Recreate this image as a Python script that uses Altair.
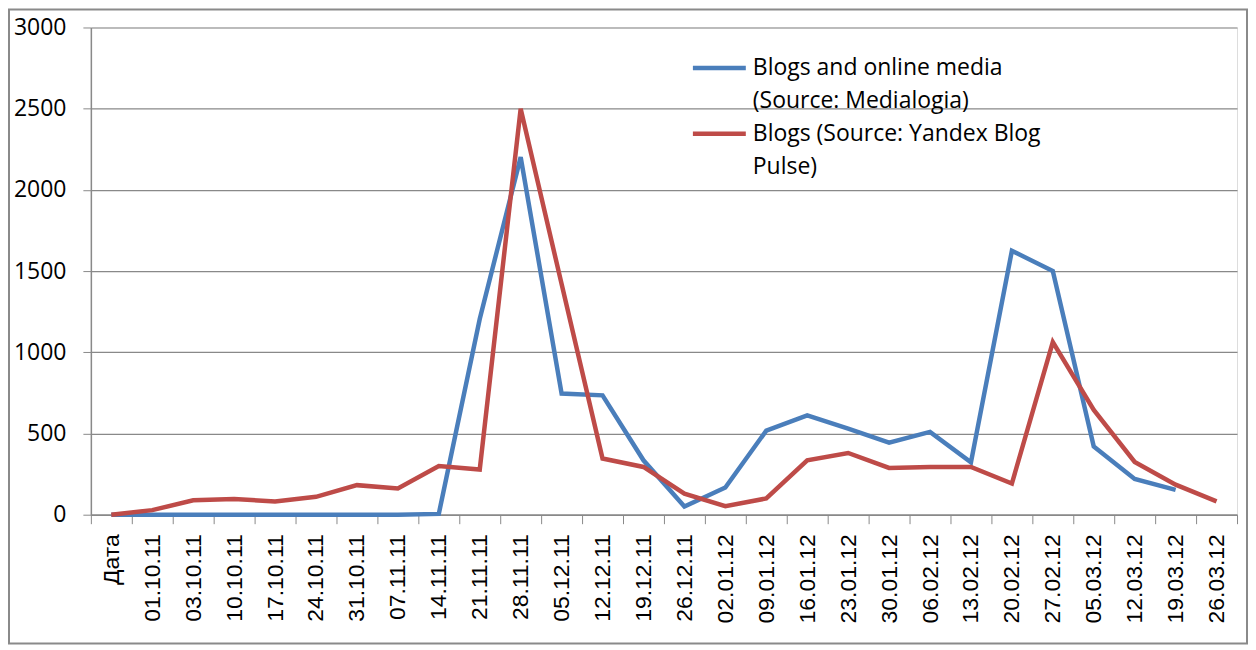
import altair as alt
import pandas as pd

categories = ["Дата", "01.10.11", "03.10.11", "10.10.11", "17.10.11", "24.10.11", "31.10.11",
              "07.11.11", "14.11.11", "21.11.11", "28.11.11", "05.12.11", "12.12.11", "19.12.11",
              "26.12.11", "02.01.12", "09.01.12", "16.01.12", "23.01.12", "30.01.12", "06.02.12",
              "13.02.12", "20.02.12", "27.02.12", "05.03.12", "12.03.12", "19.03.12", "26.03.12"]

medialogia = [0, 0, 0, 0, 0, 0, 0, 0, 5, 1205, 2202, 746, 735, 335, 50, 167, 518, 612, 530,
              444, 510, 322, 1625, 1500, 420, 220, 153, None]

yandex = [0, 28, 89, 97, 81, 110, 182, 161, 300, 278, 2500, 1420, 346, 294, 130, 52, 100, 335,
          380, 288, 294, 294, 192, 1063, 645, 325, 185, 82]

series_names = ["Blogs and online media\n(Source: Medialogia)",
                "Blogs (Source: Yandex Blog\nPulse)"]
series_colors = ["#4A7EBB", "#BE4B48"]

y_ticks = [0, 500, 1000, 1500, 2000, 2500, 3000]

rows = []
for name, values in zip(series_names, [medialogia, yandex]):
    for cat, v in zip(categories, values):
        if v is not None:
            rows.append({"date": cat, "value": v, "series": name})
df = pd.DataFrame(rows)

GRID = "#898989"
W, H = 1148, 488

lines = alt.Chart(df).mark_line(strokeWidth=4.5, strokeJoin="miter", strokeCap="butt").encode(
    x=alt.X("date:N", sort=categories, title=None,
            scale=alt.Scale(type="band", domain=categories, paddingInner=0, paddingOuter=0),
            axis=alt.Axis(labelAngle=270, labelFont="Liberation Sans", labelFontSize=23,
                          labelColor="#000000", tickBand="extent", tickSize=9, tickColor=GRID,
                          domainColor=GRID, domainWidth=1.5, labelPadding=10, grid=False,
                          labelOverlap=False, labelBaseline="middle", labelAlign="right")),
    y=alt.Y("value:Q", title=None,
            scale=alt.Scale(domain=[0, 3000], nice=False),
            axis=alt.Axis(values=y_ticks, format="d", labelFont="Open Sans", labelFontSize=23,
                          labelColor="#000000", tickSize=8, tickColor=GRID, domainColor=GRID,
                          domainWidth=1.5, gridColor=GRID, gridWidth=1.2, labelPadding=17)),
    color=alt.Color("series:N", sort=series_names,
                    scale=alt.Scale(domain=series_names, range=series_colors),
                    legend=alt.Legend(title=None, orient="none", legendX=617, legendY=28,
                                      symbolType="M-2.65,0H2.65", symbolSize=400,
                                      symbolStrokeWidth=4.5, symbolFillColor="transparent",
                                      labelFont="Open Sans", labelFontSize=23, labelColor="#000000",
                                      labelExpr="split(datum.label, '\\n')", labelLimit=400,
                                      labelOffset=21, rowPadding=8, labelBaseline="middle")),
)

frame = alt.Chart(alt.Data(values=[{}])).mark_rect(filled=False, stroke="#8A8A8A", strokeWidth=2).encode(
    x=alt.value(-82), x2=alt.value(1158), y=alt.value(-18), y2=alt.value(617)
)

chart = alt.layer(frame, lines).properties(width=W, height=H, padding=0).configure_view(
    stroke="transparent"
).configure(style={"guide-label": {"lineHeight": 33}})

chart.save("out.html", embed_options={"renderer": "svg", "actions": False})
